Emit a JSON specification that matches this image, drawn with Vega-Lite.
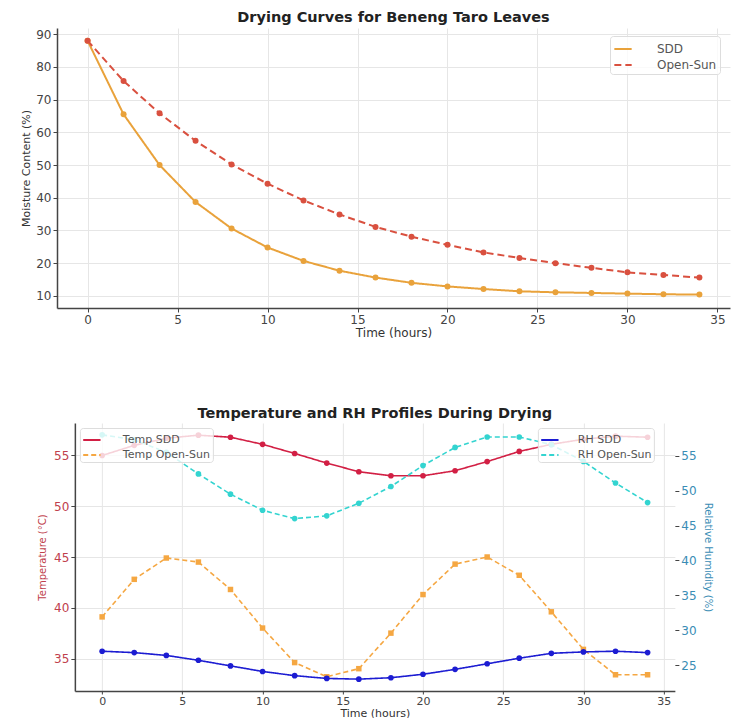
{
  "$schema": "https://vega.github.io/schema/vega-lite/v6.json",
  "padding": {"left": 20, "top": 9, "right": 5, "bottom": 0},
  "background": "white",
  "config": {
    "font": "DejaVu Sans",
    "view": {"stroke": null},
    "axis": {
      "domainColor": "#444", "domainWidth": 1.5, "tickColor": "#444", "tickSize": 4,
      "labelColor": "#444", "labelFontSize": 12, "labelPadding": 2,
      "titleColor": "#333", "titleFontSize": 11, "titleFontWeight": "normal",
      "gridColor": "#e6e6e6", "gridWidth": 1
    },
    "legend": {
      "orient": "none", "title": null, "fillColor": "rgba(255,255,255,0.8)", "strokeColor": "#dddddd",
      "padding": 3, "cornerRadius": 3, "labelFontSize": 12, "labelColor": "#555",
      "symbolType": "stroke", "symbolSize": 300, "symbolStrokeWidth": 2, "rowPadding": 0, "labelOffset": 24
    },
    "title": {"font": "DejaVu Sans", "fontSize": 14.5, "fontWeight": "bold", "color": "#222", "offset": 3}
  },
  "datasets": {
    "drying": [
      {"t": 0, "series": "SDD", "mc": 88.0}, {"t": 2, "series": "SDD", "mc": 65.5}, {"t": 4, "series": "SDD", "mc": 50.0},
      {"t": 6, "series": "SDD", "mc": 38.7}, {"t": 8, "series": "SDD", "mc": 30.6}, {"t": 10, "series": "SDD", "mc": 24.8},
      {"t": 12, "series": "SDD", "mc": 20.7}, {"t": 14, "series": "SDD", "mc": 17.7}, {"t": 16, "series": "SDD", "mc": 15.6},
      {"t": 18, "series": "SDD", "mc": 14.0}, {"t": 20, "series": "SDD", "mc": 12.9}, {"t": 22, "series": "SDD", "mc": 12.1},
      {"t": 24, "series": "SDD", "mc": 11.4}, {"t": 26, "series": "SDD", "mc": 11.1}, {"t": 28, "series": "SDD", "mc": 10.9},
      {"t": 30, "series": "SDD", "mc": 10.7}, {"t": 32, "series": "SDD", "mc": 10.5}, {"t": 34, "series": "SDD", "mc": 10.4},
      {"t": 0, "series": "Open-Sun", "mc": 88.0}, {"t": 2, "series": "Open-Sun", "mc": 75.7}, {"t": 4, "series": "Open-Sun", "mc": 65.8},
      {"t": 6, "series": "Open-Sun", "mc": 57.4}, {"t": 8, "series": "Open-Sun", "mc": 50.2}, {"t": 10, "series": "Open-Sun", "mc": 44.3},
      {"t": 12, "series": "Open-Sun", "mc": 39.2}, {"t": 14, "series": "Open-Sun", "mc": 34.9}, {"t": 16, "series": "Open-Sun", "mc": 31.1},
      {"t": 18, "series": "Open-Sun", "mc": 28.1}, {"t": 20, "series": "Open-Sun", "mc": 25.6}, {"t": 22, "series": "Open-Sun", "mc": 23.3},
      {"t": 24, "series": "Open-Sun", "mc": 21.6}, {"t": 26, "series": "Open-Sun", "mc": 20.0}, {"t": 28, "series": "Open-Sun", "mc": 18.6},
      {"t": 30, "series": "Open-Sun", "mc": 17.2}, {"t": 32, "series": "Open-Sun", "mc": 16.4}, {"t": 34, "series": "Open-Sun", "mc": 15.6}
    ],
    "temp": [
      {"t": 0, "series": "Temp SDD", "temp": 55.0}, {"t": 2, "series": "Temp SDD", "temp": 56.0}, {"t": 4, "series": "Temp SDD", "temp": 56.7},
      {"t": 6, "series": "Temp SDD", "temp": 57.0}, {"t": 8, "series": "Temp SDD", "temp": 56.8}, {"t": 10, "series": "Temp SDD", "temp": 56.1},
      {"t": 12, "series": "Temp SDD", "temp": 55.2}, {"t": 14, "series": "Temp SDD", "temp": 54.25}, {"t": 16, "series": "Temp SDD", "temp": 53.4},
      {"t": 18, "series": "Temp SDD", "temp": 53.0}, {"t": 20, "series": "Temp SDD", "temp": 53.0}, {"t": 22, "series": "Temp SDD", "temp": 53.5},
      {"t": 24, "series": "Temp SDD", "temp": 54.4}, {"t": 26, "series": "Temp SDD", "temp": 55.4}, {"t": 28, "series": "Temp SDD", "temp": 56.1},
      {"t": 30, "series": "Temp SDD", "temp": 56.6}, {"t": 32, "series": "Temp SDD", "temp": 56.9}, {"t": 34, "series": "Temp SDD", "temp": 56.8},
      {"t": 0, "series": "Temp Open-Sun", "temp": 39.1}, {"t": 2, "series": "Temp Open-Sun", "temp": 42.8}, {"t": 4, "series": "Temp Open-Sun", "temp": 44.9},
      {"t": 6, "series": "Temp Open-Sun", "temp": 44.5}, {"t": 8, "series": "Temp Open-Sun", "temp": 41.8}, {"t": 10, "series": "Temp Open-Sun", "temp": 38.0},
      {"t": 12, "series": "Temp Open-Sun", "temp": 34.6}, {"t": 14, "series": "Temp Open-Sun", "temp": 33.2}, {"t": 16, "series": "Temp Open-Sun", "temp": 34.0},
      {"t": 18, "series": "Temp Open-Sun", "temp": 37.5}, {"t": 20, "series": "Temp Open-Sun", "temp": 41.3}, {"t": 22, "series": "Temp Open-Sun", "temp": 44.3},
      {"t": 24, "series": "Temp Open-Sun", "temp": 45.0}, {"t": 26, "series": "Temp Open-Sun", "temp": 43.2}, {"t": 28, "series": "Temp Open-Sun", "temp": 39.6},
      {"t": 30, "series": "Temp Open-Sun", "temp": 35.9}, {"t": 32, "series": "Temp Open-Sun", "temp": 33.4}, {"t": 34, "series": "Temp Open-Sun", "temp": 33.4}
    ],
    "rh": [
      {"t": 0, "series": "RH SDD", "rh": 27.0}, {"t": 2, "series": "RH SDD", "rh": 26.8}, {"t": 4, "series": "RH SDD", "rh": 26.4},
      {"t": 6, "series": "RH SDD", "rh": 25.7}, {"t": 8, "series": "RH SDD", "rh": 24.9}, {"t": 10, "series": "RH SDD", "rh": 24.1},
      {"t": 12, "series": "RH SDD", "rh": 23.5}, {"t": 14, "series": "RH SDD", "rh": 23.1}, {"t": 16, "series": "RH SDD", "rh": 23.0},
      {"t": 18, "series": "RH SDD", "rh": 23.2}, {"t": 20, "series": "RH SDD", "rh": 23.7}, {"t": 22, "series": "RH SDD", "rh": 24.4},
      {"t": 24, "series": "RH SDD", "rh": 25.2}, {"t": 26, "series": "RH SDD", "rh": 26.0}, {"t": 28, "series": "RH SDD", "rh": 26.7},
      {"t": 30, "series": "RH SDD", "rh": 26.9}, {"t": 32, "series": "RH SDD", "rh": 27.0}, {"t": 34, "series": "RH SDD", "rh": 26.8},
      {"t": 0, "series": "RH Open-Sun", "rh": 58.0}, {"t": 2, "series": "RH Open-Sun", "rh": 57.3}, {"t": 4, "series": "RH Open-Sun", "rh": 55.5},
      {"t": 6, "series": "RH Open-Sun", "rh": 52.4}, {"t": 8, "series": "RH Open-Sun", "rh": 49.5}, {"t": 10, "series": "RH Open-Sun", "rh": 47.2},
      {"t": 12, "series": "RH Open-Sun", "rh": 46.0}, {"t": 14, "series": "RH Open-Sun", "rh": 46.4}, {"t": 16, "series": "RH Open-Sun", "rh": 48.2},
      {"t": 18, "series": "RH Open-Sun", "rh": 50.6}, {"t": 20, "series": "RH Open-Sun", "rh": 53.6}, {"t": 22, "series": "RH Open-Sun", "rh": 56.2},
      {"t": 24, "series": "RH Open-Sun", "rh": 57.7}, {"t": 26, "series": "RH Open-Sun", "rh": 57.7}, {"t": 28, "series": "RH Open-Sun", "rh": 56.6},
      {"t": 30, "series": "RH Open-Sun", "rh": 54.2}, {"t": 32, "series": "RH Open-Sun", "rh": 51.1}, {"t": 34, "series": "RH Open-Sun", "rh": 48.3}
    ]
  },
  "vconcat": [
    {
      "width": 673,
      "height": 280,
      "title": {"text": "Drying Curves for Beneng Taro Leaves"},
      "data": {"name": "drying"},
      "encoding": {
        "x": {"field": "t", "type": "quantitative", "scale": {"domain": [-1.7, 35.7], "nice": false, "zero": false},
              "axis": {"values": [0, 5, 10, 15, 20, 25, 30, 35], "title": "Time (hours)", "titleFontSize": 12, "titlePadding": 2}},
        "y": {"field": "mc", "type": "quantitative", "scale": {"domain": [6.3, 91.9], "nice": false, "zero": false},
              "axis": {"values": [10, 20, 30, 40, 50, 60, 70, 80, 90], "title": "Moisture Content (%)", "titlePadding": 4}},
        "color": {"field": "series", "type": "nominal", "scale": {"domain": ["SDD", "Open-Sun"], "range": ["#E9A23B", "#D9503F"]},
                  "legend": {"legendX": 553, "legendY": 8}}
      },
      "layer": [
        {"mark": {"type": "line", "strokeWidth": 2},
         "encoding": {"strokeDash": {"field": "series", "type": "nominal", "scale": {"domain": ["SDD", "Open-Sun"], "range": [[1, 0], [7, 4]]},
                                     "legend": {"legendX": 553, "legendY": 8}}}},
        {"mark": {"type": "point", "filled": true, "size": 36, "opacity": 1, "shape": "circle"}}
      ]
    },
    {
      "width": 600,
      "height": 268,
      "title": {"text": "Temperature and RH Profiles During Drying", "offset": 2},
      "layer": [
        {
          "data": {"name": "temp"},
          "encoding": {
            "x": {"field": "t", "type": "quantitative", "scale": {"domain": [-1.7, 35.7], "nice": false, "zero": false},
                  "axis": {"values": [0, 5, 10, 15, 20, 25, 30, 35], "title": "Time (hours)", "labelFontSize": 11, "titleFontSize": 11, "titlePadding": 1, "tickSize": 3, "labelPadding": 1}},
            "y": {"field": "temp", "type": "quantitative", "scale": {"domain": [31.8, 58.2], "nice": false, "zero": false},
                  "axis": {"values": [35, 40, 45, 50, 55], "title": "Temperature (°C)", "labelColor": "#c0404c", "titleColor": "#c0404c", "titlePadding": 6, "titleFontSize": 10}},
            "color": {"field": "series", "type": "nominal", "scale": {"domain": ["Temp SDD", "Temp Open-Sun"], "range": ["#D21F44", "#F5A742"]},
                      "legend": {"legendX": 5, "legendY": 5, "labelFontSize": 11, "labelOffset": 21, "padding": 2, "rowPadding": -2}}
          },
          "layer": [
            {"mark": {"type": "line", "strokeWidth": 1.6},
             "encoding": {"strokeDash": {"field": "series", "type": "nominal", "scale": {"domain": ["Temp SDD", "Temp Open-Sun"], "range": [[1, 0], [5, 3]]},
                                         "legend": {"legendX": 5, "legendY": 5, "labelFontSize": 11, "labelOffset": 21, "padding": 2, "rowPadding": -2}}}},
            {"transform": [{"filter": "datum.series === 'Temp SDD'"}],
             "mark": {"type": "point", "filled": true, "size": 32, "opacity": 1, "shape": "circle"}},
            {"transform": [{"filter": "datum.series === 'Temp Open-Sun'"}],
             "mark": {"type": "point", "filled": true, "size": 30, "opacity": 1, "shape": "square"}}
          ]
        },
        {
          "data": {"name": "rh"},
          "encoding": {
            "x": {"field": "t", "type": "quantitative"},
            "y": {"field": "rh", "type": "quantitative", "scale": {"domain": [21.3, 59.7], "nice": false, "zero": false},
                  "axis": {"orient": "right", "values": [25, 30, 35, 40, 45, 50, 55], "title": "Relative Humidity (%)", "domain": false, "grid": false,
                           "labelColor": "#3a8db5", "titleColor": "#3a8db5", "titlePadding": 6, "titleFontSize": 10}},
            "color": {"field": "series", "type": "nominal", "scale": {"domain": ["RH SDD", "RH Open-Sun"], "range": ["#1C1CD2", "#33D4D0"]},
                      "legend": {"legendX": 463, "legendY": 5, "labelFontSize": 11, "labelOffset": 18, "padding": 2, "rowPadding": -2}}
          },
          "layer": [
            {"mark": {"type": "line", "strokeWidth": 1.6},
             "encoding": {"strokeDash": {"field": "series", "type": "nominal", "scale": {"domain": ["RH SDD", "RH Open-Sun"], "range": [[1, 0], [5, 3]]},
                                         "legend": {"legendX": 463, "legendY": 5, "labelFontSize": 11, "labelOffset": 18, "padding": 2, "rowPadding": -2}}}},
            {"mark": {"type": "point", "filled": true, "size": 32, "opacity": 1, "shape": "circle"}}
          ]
        }
      ],
      "resolve": {"scale": {"y": "independent", "color": "independent", "strokeDash": "independent"}}
    }
  ],
  "center": true,
  "spacing": 67
}
